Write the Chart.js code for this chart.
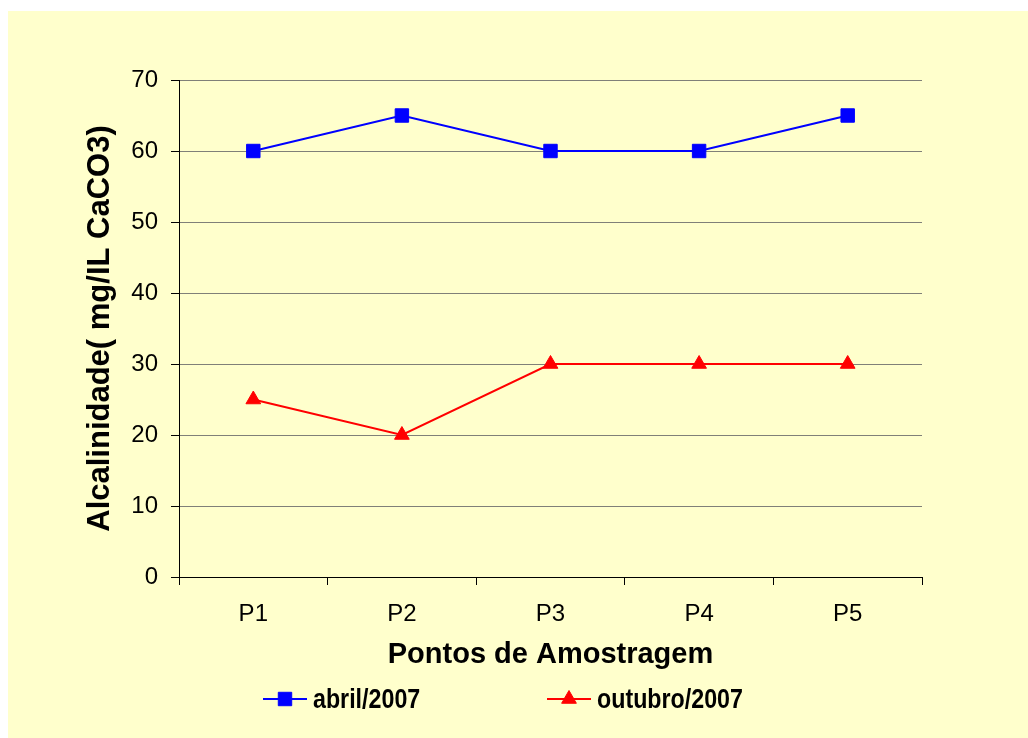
<!DOCTYPE html>
<html>
<head>
<meta charset="utf-8">
<script src="https://cdn.jsdelivr.net/npm/chart.js@4/dist/chart.umd.min.js"></script>
<style>
  html, body { margin: 0; padding: 0; background: #ffffff; }
  #box { position: absolute; left: 8px; top: 11px; width: 1020px; height: 727px; background: #FFFFCC; }
</style>
</head>
<body>
<div id="box"><canvas id="chart" width="1020" height="727"></canvas></div>
<script>
const categories = ['P1', 'P2', 'P3', 'P4', 'P5'];
const abril = [60, 65, 60, 60, 65];
const outubro = [25, 20, 30, 30, 30];
const yTicks = [0, 10, 20, 30, 40, 50, 60, 70];

const FONT = "'Liberation Sans', Arial, sans-serif";

// legend under the x title: short line with the marker in the middle,
// text is a bit condensed like in the original
const lineLegend = {
  id: 'lineLegend',
  afterDraw(chart) {
    const ctx = chart.ctx;
    const y = 688;
    chart.data.datasets.forEach((ds, i) => {
      const x0 = 255 + i * 284;
      ctx.save();
      ctx.strokeStyle = ds.borderColor;
      ctx.fillStyle = ds.pointBackgroundColor;
      ctx.lineWidth = 2;
      ctx.beginPath();
      ctx.moveTo(x0, y);
      ctx.lineTo(x0 + 44, y);
      ctx.stroke();
      ctx.lineWidth = 1;
      Chart.helpers.drawPoint(ctx, { pointStyle: ds.pointStyle, radius: ds.pointRadius, borderWidth: 1 }, x0 + 22, y);
      ctx.restore();

      ctx.save();
      ctx.translate(x0 + 50, y + 1);
      ctx.scale(0.83, 1);
      ctx.fillStyle = '#000';
      ctx.font = 'bold 28px ' + FONT;
      ctx.textBaseline = 'middle';
      ctx.textAlign = 'left';
      ctx.fillText(ds.label, 0, 0);
      ctx.restore();
    });
  }
};

new Chart(document.getElementById('chart'), {
  type: 'line',
  data: {
    labels: categories,
    datasets: [
      {
        label: 'abril/2007',
        data: abril,
        borderColor: '#0000FF',
        backgroundColor: '#0000FF',
        pointBackgroundColor: '#0000FF',
        pointBorderColor: '#0000FF',
        pointStyle: 'rect',
        pointRadius: 9.5,
        pointBorderWidth: 1,
        borderWidth: 2,
        tension: 0
      },
      {
        label: 'outubro/2007',
        data: outubro,
        borderColor: '#FF0000',
        backgroundColor: '#FF0000',
        pointBackgroundColor: '#FF0000',
        pointBorderColor: '#FF0000',
        pointStyle: 'triangle',
        pointRadius: 8.5,
        pointBorderWidth: 1,
        borderWidth: 2,
        tension: 0
      }
    ]
  },
  options: {
    responsive: false,
    animation: false,
    layout: { padding: { left: 73.4, top: 69, right: 106, bottom: 65.6 } },
    plugins: {
      legend: { display: false },
      tooltip: { enabled: false }
    },
    scales: {
      x: {
        offset: true,
        grid: {
          offset: true,
          drawOnChartArea: false,
          drawTicks: true,
          tickLength: 8,
          tickColor: '#000'
        },
        border: { color: '#000', width: 1 },
        ticks: { color: '#000', padding: 14.6, font: { family: FONT, size: 24 } },
        title: {
          display: true,
          text: 'Pontos de Amostragem',
          color: '#000',
          padding: 0,
          font: { family: FONT, size: 29, weight: 'bold' }
        },
        afterFit(scale) { scale.height = 95.4; }
      },
      y: {
        min: 0,
        max: 70,
        afterBuildTicks(scale) { scale.ticks = yTicks.map(v => ({ value: v })); },
        grid: {
          color: '#808078',
          lineWidth: 1,
          borderDash: [1, 1],
          tickLength: 8,
          tickColor: '#000',
          tickBorderDash: []
        },
        border: { color: '#000', width: 1 },
        ticks: { color: '#000', padding: 13, font: { family: FONT, size: 24 } },
        title: {
          display: true,
          text: 'Alcalinidade( mg/IL CaCO3)',
          color: '#000',
          padding: 0,
          font: { family: FONT, size: 31, weight: 'bold' }
        },
        afterFit(scale) { scale.width = 97.6; }
      }
    }
  },
  plugins: [lineLegend]
});
</script>
</body>
</html>
